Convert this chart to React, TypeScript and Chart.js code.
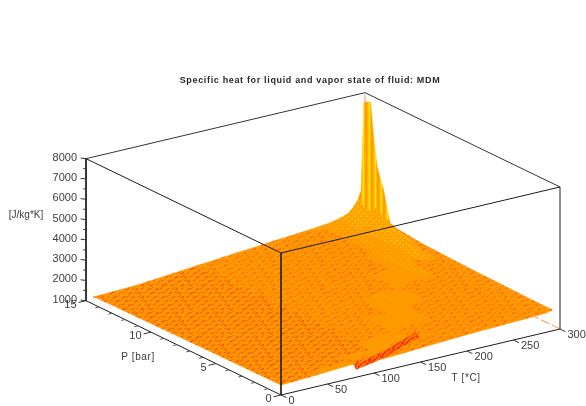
import React, { useEffect, useRef } from "react";
import { Chart, registerables } from "chart.js";

Chart.register(...registerables);

// ---- data ----
const titleText = "Specific heat for liquid and vapor state of fluid: MDM";
const tGrid = [0, 40, 77, 110, 130, 150, 170, 190, 210, 230, 240, 250, 260, 270, 275, 280, 284, 287, 289, 291, 292];
const pGrid = [0, 0.4, 1, 2, 4, 6, 8, 10, 12, 12.5, 13, 13.5, 13.8, 14, 14.15];
const tSaturation = [77, 115, 150, 178, 212, 238, 255, 270, 280, 283, 285, 287, 288, 289, 291];

const cpP0 = [1490, 1577, 1680, 1590, 1640, 1690, 1740, 1790, 1830, 1860, 1875, 1890, 1905, 1920, 1930, 1940, 1955, 1975, 1995, 2015, 2025];
const cpP04 = [1488, 1590, 1690, 1720, 1700, 1760, 1790, 1820, 1850, 1880, 1895, 1910, 1925, 1940, 1950, 1960, 1970, 1985, 2000, 2020, 2025];
const cpP1 = [1485, 1590, 1690, 1700, 1770, 1900, 1820, 1860, 1890, 1915, 1935, 1950, 1965, 1980, 1990, 2000, 2005, 2010, 2015, 2025, 2025];
const cpP2 = [1480, 1590, 1690, 1730, 1790, 1850, 2040, 2000, 1980, 1975, 1985, 1995, 2005, 2010, 2015, 2020, 2022, 2025, 2028, 2030, 2030];
const cpP4 = [1470, 1585, 1690, 1760, 1830, 1895, 1960, 2060, 2200, 2120, 2090, 2070, 2060, 2055, 2055, 2055, 2055, 2055, 2060, 2060, 2060];
const cpP6 = [1460, 1580, 1690, 1780, 1850, 1920, 1985, 2050, 2130, 2280, 2300, 2200, 2160, 2130, 2120, 2110, 2105, 2100, 2095, 2090, 2090];
const cpP8 = [1445, 1575, 1690, 1795, 1870, 1940, 2005, 2070, 2140, 2220, 2300, 2450, 2350, 2230, 2200, 2180, 2165, 2155, 2145, 2135, 2130];
const cpP10 = [1430, 1570, 1695, 1810, 1885, 1955, 2020, 2090, 2160, 2230, 2270, 2340, 2500, 2800, 2500, 2350, 2280, 2240, 2210, 2190, 2180];
const cpP12 = [1415, 1565, 1700, 1820, 1895, 1970, 2035, 2105, 2180, 2250, 2290, 2330, 2390, 2480, 2600, 2850, 2600, 2450, 2380, 2330, 2320];
const cpP125 = [1410, 1565, 1700, 1820, 1900, 1970, 2040, 2110, 2185, 2260, 2295, 2340, 2400, 2500, 2620, 2820, 2850, 2700, 2600, 2460, 2430];
const cpP13 = [1405, 1560, 1700, 1825, 1900, 1975, 2045, 2115, 2190, 2265, 2300, 2350, 2420, 2530, 2670, 2900, 3150, 3500, 3800, 3900, 3900];
const cpP135 = [1400, 1560, 1700, 1825, 1905, 1980, 2050, 2120, 2195, 2270, 2310, 2360, 2440, 2560, 2720, 2980, 3250, 4100, 4700, 4900, 4900];
const cpP138 = [1400, 1555, 1700, 1830, 1905, 1980, 2050, 2125, 2200, 2280, 2320, 2365, 2450, 2580, 2760, 3050, 3400, 4700, 6000, 6400, 6470];
const cpP14 = [1395, 1555, 1700, 1830, 1910, 1985, 2055, 2130, 2205, 2285, 2325, 2370, 2460, 2600, 2800, 3100, 3500, 5600, 7300, 7700, 7900];
const cpP1415 = [1390, 1550, 1700, 1830, 1910, 1990, 2060, 2140, 2210, 2290, 2330, 2380, 2480, 2630, 2850, 3170, 3600, 7900, 7900, 7900, 7900];
const cpRows = [cpP0, cpP04, cpP1, cpP2, cpP4, cpP6, cpP8, cpP10, cpP12, cpP125, cpP13, cpP135, cpP138, cpP14, cpP1415];

const tipT = [0, 0, 40, 0];
const tipP = [14.15, 14.45, 14.15, 14.15];
const tipCp = [1390, 1350, 1550, 1390];
const stripeT = [80, 102, 115, 131, 150, 167];
const stripeP = [0.05, 0.08, 0.3, 0.64, 1.05, 1.45];
const stripeCp = [1500, 1650, 1690, 1700, 1700, 1700];
const peakT = [288, 288];
const peakP = [14.15, 14.15];
const peakCp = [7700, 8300];
const edgeT = [300, 300];
const edgeP = [0, 2.1];
const edgeCp = [1000, 1000];

const tTicks = [0, 50, 100, 150, 200, 250, 300];
const pTicks = [0, 5, 10, 15];
const pMinorTicks = [1, 2, 3, 4, 6, 7, 8, 9, 11, 12, 13, 14];
const zTicks = [1000, 2000, 3000, 4000, 5000, 6000, 7000, 8000];
const zMinorTicks = [1500, 2500, 3500, 4500, 5500, 6500, 7500];
const xTitle = "T [*C]";
const yTitle = "P [bar]";
const zTitle = "[J/kg*K]";

// ---- oblique view of the box ----
const project = (t: number, p: number, z: number) => ({
  x: 281 + t * 0.93 - p * 13,
  y: 395 - t * 0.22 - p * 6.287 - (z - 1000) * 0.02029,
});
const line = (pts: { x: number; y: number }[], color: any = "#1c1c1c", width = 1, dash: number[] = []) => ({
  data: pts,
  showLine: true,
  fill: false,
  borderColor: color,
  borderWidth: width,
  borderDash: dash,
  pointRadius: 0,
  clip: false,
});

function makeTile(base: string, colors: string[], rowStep: number, colStep: number): CanvasPattern | string {
  const c = document.createElement("canvas");
  c.width = colStep * 8;
  c.height = rowStep * 6;
  const g = c.getContext("2d");
  if (!g) return base;
  g.fillStyle = base;
  g.fillRect(0, 0, c.width, c.height);
  for (let r = 0; r < 6; r++) {
    for (let k = 0; k < 8; k++) {
      const x = (k * colStep + r * 3 + (k % 3)) % c.width;
      const y = r * rowStep + (k % 2);
      g.fillStyle = colors[(r * 2 + k * 3) % colors.length];
      g.fillRect(x, y, 2, 1);
      g.fillRect((x + 2) % c.width, y - 1 < 0 ? c.height - 1 : y - 1, 1, 1);
    }
  }
  return g.createPattern(c, "repeat") || base;
}

function makeStripes(colors: string[]): CanvasPattern | string {
  const c = document.createElement("canvas");
  c.width = colors.length;
  c.height = 1;
  const g = c.getContext("2d");
  if (!g) return colors[0];
  colors.forEach((col, i) => {
    g.fillStyle = col;
    g.fillRect(i, 0, 1, 1);
  });
  return g.createPattern(c, "repeat") || colors[0];
}

function makeChecker(base: string, dot: string): CanvasPattern | string {
  const c = document.createElement("canvas");
  c.width = 6;
  c.height = 6;
  const g = c.getContext("2d");
  if (!g) return base;
  g.fillStyle = base;
  g.fillRect(0, 0, 6, 6);
  g.fillStyle = dot;
  g.fillRect(0, 0, 2, 1);
  g.fillRect(3, 3, 2, 1);
  g.fillRect(1, 4, 1, 1);
  g.fillRect(4, 1, 1, 1);
  return g.createPattern(c, "repeat") || base;
}

export default function App() {
  const ref = useRef<HTMLCanvasElement>(null);
  useEffect(() => {
    if (!ref.current) return;
    const strong = makeTile("#FF9400", ["#FF5C00", "#FF3000", "#FF6400", "#FF4400"], 4, 5);
    const medium = makeTile("#FF9600", ["#FF7000", "#FF5C00", "#FF7C00", "#FF5000"], 4, 6);
    const red = makeTile("#FF7800", ["#FF2400", "#FF3400", "#FF1C00"], 2, 3);
    const stripes = makeStripes(["#FF9900", "#FFAE00", "#FFC800", "#FFE600", "#FFB400", "#FF9F00"]);
    const checker = makeChecker("#FF9F00", "#FFCC00");
    const checkerLight = makeChecker("#FF9900", "#FFB400");

    const facets: any[] = [];
    const solid = (pts: any[], fillStyle: any) => ({
      data: pts,
      showLine: true,
      fill: "shape",
      backgroundColor: fillStyle,
      borderColor: fillStyle,
      borderWidth: 0.6,
      pointRadius: 0,
      clip: false,
    });
    for (let i = 0; i < pGrid.length - 1; i++) {
      for (let j = 0; j < tGrid.length - 1; j++) {
        const corners = [
          [j, i],
          [j + 1, i],
          [j + 1, i + 1],
          [j, i + 1],
          [j, i],
        ];
        const pts = corners.map(([b, a]) => project(tGrid[b], pGrid[a], cpRows[a][b]));
        const zMean = (cpRows[i][j] + cpRows[i][j + 1] + cpRows[i + 1][j] + cpRows[i + 1][j + 1]) / 4;
        const tMid = (tGrid[j] + tGrid[j + 1]) / 2;
        const sat = tSaturation[i];
        let fillStyle: any = medium;
        if (zMean > 3000) fillStyle = stripes;
        else if (zMean > 2450) fillStyle = checker;
        else if (zMean > 2300) fillStyle = checkerLight;
        else if (tMid > sat - 35 && tMid < sat + 8) fillStyle = "#FF9900";
        else if (tMid < 110) fillStyle = strong;
        facets.push(solid(pts, fillStyle));
      }
    }
    const tip = solid(tipT.map((t, i) => project(t, tipP[i], tipCp[i])), strong);

    const corner = (t: number, p: number, z: number) => project(t, p, z);
    const frontLines = [
      line([corner(0, 0, 8000), corner(0, 0, 1000)], "#2a2a10"),
      line([corner(0, 15, 8000), corner(0, 0, 8000), corner(300, 0, 8000)]),
    ];
    const axisLines = [
      line([corner(0, 15, 8000), corner(0, 15, 1000), corner(0, 0, 1000), corner(300, 0, 1000), corner(300, 0, 8000)]),
      line([corner(0, 15, 8000), corner(300, 15, 8000), corner(300, 0, 8000)], "#333333"),
    ];
    const ticks: any[] = [];
    zTicks.forEach((z) => ticks.push(line([corner(0, 15, z), corner(-3, 15.2, z)], "#333333")));
    zMinorTicks.forEach((z) => ticks.push(line([corner(0, 15, z), corner(-1.5, 15.1, z)], "#333333")));
    pTicks.forEach((p) => ticks.push(line([corner(0, p, 1000), corner(-8, p, 1000)], "#333333")));
    pMinorTicks.forEach((p) => ticks.push(line([corner(0, p, 1000), corner(-4, p, 1000)], "#555555")));
    tTicks.forEach((t) => ticks.push(line([corner(t, 0, 1000), corner(t, -0.42, 1000)], "#333333")));
    const peakLine = line(peakT.map((t, i) => corner(t, peakP[i], peakCp[i])), "#FFB27A", 1.4);
    const edgeLine = line(edgeT.map((t, i) => corner(t, edgeP[i], edgeCp[i])), "#FFA866", 1.2, [9, 3]);
    const stripeLine = line(stripeT.map((t, i) => corner(t, stripeP[i], stripeCp[i])), red, 6);

    // Chart.js paints the first dataset last, so the list runs front to back.
    const datasets = [...frontLines, ...ticks, ...axisLines, edgeLine, stripeLine, ...facets, tip, peakLine];

    const textPlugin = {
      id: "plotText",
      afterDatasetsDraw(chart: any) {
        const g = chart.ctx as CanvasRenderingContext2D;
        g.save();
        g.textBaseline = "middle";
        g.fillStyle = "#3c3c3c";
        g.font = "11px 'Liberation Sans'";
        g.textAlign = "right";
        zTicks.forEach((z) => {
          const a = project(0, 15, z);
          g.fillText(String(z), a.x - 9, a.y - 1);
        });
        pTicks.forEach((p) => {
          const a = project(0, p, 1000);
          g.fillText(String(p), a.x - 9.5, a.y + 4);
        });
        g.textAlign = "left";
        tTicks.forEach((t) => {
          const a = project(t, 0, 1000);
          g.fillText(String(t), a.x + 7.5, a.y + 5.5);
        });
        g.font = "10px 'Liberation Sans'";
        g.textAlign = "center";
        (g as any).letterSpacing = "0.6px";
        g.fillText(xTitle, 466, 378);
        g.fillText(yTitle, 138, 357);
        (g as any).letterSpacing = "0px";
        g.fillText(zTitle, 26, 215);
        g.font = "bold 9px 'Liberation Sans'";
        g.fillStyle = "#2a2a2a";
        (g as any).letterSpacing = "0.66px";
        g.fillText(titleText, 310, 81);
        g.restore();
      },
    };

    const chart = new Chart(ref.current, {
      type: "scatter",
      data: { datasets },
      options: {
        animation: false,
        responsive: false,
        events: [],
        layout: { padding: 0 },
        plugins: { legend: { display: false }, tooltip: { enabled: false }, title: { display: false } },
        scales: {
          x: { type: "linear", min: 0, max: 586, display: false },
          y: { type: "linear", min: 0, max: 406, reverse: true, display: false },
        },
      },
      plugins: [textPlugin],
    } as any);
    return () => chart.destroy();
  }, []);
  return (
    <canvas
      ref={ref}
      width={586}
      height={406}
      style={{ position: "absolute", left: 0, top: 0, display: "block", background: "#ffffff" }}
    />
  );
}
